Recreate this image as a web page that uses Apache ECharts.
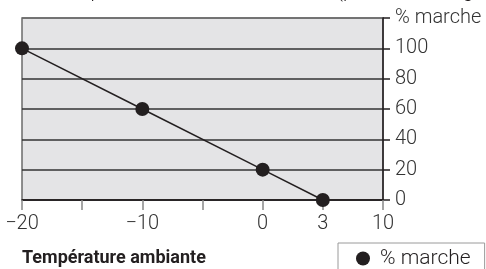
<!DOCTYPE html>
<html>
<head>
<meta charset="utf-8">
<script src="https://cdn.jsdelivr.net/npm/echarts@6/dist/echarts.min.js"></script>
<style>
  html, body { margin: 0; padding: 0; background: #fff; }
  #chart { width: 486px; height: 269px; }
</style>
</head>
<body>
<div id="chart"></div>
<script>
// Data
const tempLabels = ['\u221220', '', '\u221210', '', '0', '3', '10'];
const marcheValues = [100, null, 60, null, 20, 0, null];
const yTicks = [0, 20, 40, 60, 80, 100, 120];
const yUnit = '% marche';
const seriesName = '% marche';
const xTitle = 'Température ambiante';
const topText = 'Durée de pleine marche selon le local (pour le bon réglage';

const font = 'Roboto, "Noto Sans", sans-serif';

const chart = echarts.init(document.getElementById('chart'));
chart.setOption({
  animation: false,
  grid: {
    left: 22, right: 103, top: 18, bottom: 69,
    show: true,
    backgroundColor: '#e4e4e6',
    borderColor: '#6b6b6b',
    borderWidth: 1.5
  },
  title: {
    text: xTitle,
    left: 22, top: 249, padding: 0,
    textStyle: { fontFamily: font, fontSize: 18, fontWeight: 'bold', color: '#231f20' }
  },
  graphic: [{
    type: 'text',
    left: 8, top: -18,
    style: { text: topText, font: '300 20px ' + font, fill: '#231f20' }
  }],
  legend: {
    data: [seriesName],
    left: 338, top: 243,
    icon: 'circle',
    itemWidth: 24, itemHeight: 14,
    padding: [5, 14, 5, 18],
    borderColor: '#9a9a9a', borderWidth: 1,
    textStyle: { fontFamily: font, fontSize: 21, fontWeight: 300, color: '#231f20' }
  },
  xAxis: {
    type: 'category',
    data: tempLabels,
    boundaryGap: false,
    axisLine: { lineStyle: { color: '#231f20', width: 1.5 } },
    axisTick: { show: true, length: 10, interval: 0, lineStyle: { color: '#888', width: 1.5 } },
    axisLabel: { interval: 0, margin: 14, fontFamily: font, fontSize: 20, fontWeight: 300, color: '#333' },
    splitLine: { show: false }
  },
  yAxis: {
    type: 'value',
    position: 'right',
    min: 0, max: 120, interval: 20,
    axisLine: { show: true, lineStyle: { color: '#231f20', width: 1.5 } },
    axisTick: { show: true, length: 7, lineStyle: { color: '#231f20', width: 1.5 } },
    axisLabel: {
      margin: 12, fontFamily: font, fontSize: 20, fontWeight: 300, color: '#333',
      formatter: v => (v === yTicks[yTicks.length - 1] ? yUnit : String(v))
    },
    splitLine: {
      show: true,
      lineStyle: { color: ['#231f20', '#333', '#333', '#333', '#333', '#333', '#6b6b6b'], width: 1.5 }
    }
  },
  series: [{
    name: seriesName,
    type: 'line',
    data: marcheValues,
    connectNulls: true,
    clip: false,
    symbol: 'circle',
    symbolSize: 14,
    itemStyle: { color: '#231f20' },
    lineStyle: { color: '#231f20', width: 1.5 }
  }]
});
</script>
</body>
</html>
